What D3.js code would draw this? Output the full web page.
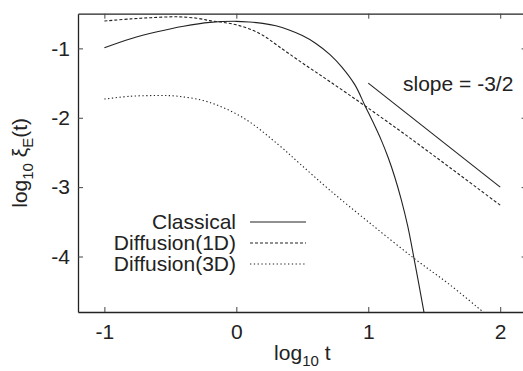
<!DOCTYPE html>
<html>
<head>
<meta charset="utf-8">
<script src="https://cdn.jsdelivr.net/npm/d3@7"></script>
<style>
  body { margin: 0; background: #fff; }
  svg { display: block; font-family: "Liberation Sans", Arial, Helvetica, sans-serif; }
</style>
</head>
<body>
<div id="chart"></div>
<script>
// values: [log10 t, log10 xi_E(t)]
var classical = [
    [-1.0, -0.99], [-0.8, -0.86], [-0.6, -0.76], [-0.4, -0.68], [-0.2, -0.625],
    [0.0, -0.61], [0.1, -0.62], [0.2, -0.64], [0.3, -0.675], [0.4, -0.735],
    [0.5, -0.815], [0.6, -0.925], [0.71, -1.09], [0.8, -1.27], [0.9, -1.53],
    [0.976, -1.83], [1.05, -2.12], [1.1, -2.33], [1.15, -2.57], [1.2, -2.85],
    [1.25, -3.18], [1.3, -3.57], [1.347, -4.03], [1.42, -4.78], [1.44, -5.0]
];
var diffusion1D = [
    [-1.0, -0.605], [-0.8, -0.575], [-0.65, -0.558], [-0.45, -0.545], [-0.3, -0.565],
    [-0.2, -0.6], [-0.1, -0.625], [0.0, -0.66], [0.1, -0.72], [0.2, -0.81],
    [0.32, -0.97], [0.5, -1.21], [0.71, -1.48], [0.98, -1.835], [1.3, -2.27],
    [1.62, -2.72], [2.0, -3.26]
];
var diffusion3D = [
    [-1.0, -1.73], [-0.8, -1.69], [-0.6, -1.68], [-0.44, -1.69], [-0.2, -1.78],
    [0.06, -2.01], [0.32, -2.39], [0.48, -2.66], [0.7, -3.03], [1.0, -3.50],
    [1.35, -4.03], [1.62, -4.41], [1.87, -4.8], [1.9, -4.85]
];
var slopeLine = [[1, -1.5], [2, -3.0]];
var xTicks = [-1, 0, 1, 2];
var yTicks = [-1, -2, -3, -4];
var legendNames = ['Classical', 'Diffusion(1D)', 'Diffusion(3D)'];

var width = 523, height = 371;
var plotLeft = 78, plotRight = 526.6, plotTop = 13.7, plotBottom = 312;

var svg = d3.select('#chart')
    .append('svg')
    .attr('width', width)
    .attr('height', height);

var x = d3.scaleLinear().domain([-1.2, 2.2]).range([plotLeft, plotRight]);
var y = d3.scaleLinear().domain([-0.5, -4.8]).range([plotTop, plotBottom]);

svg.append('clipPath')
    .attr('id', 'plotclip')
    .append('rect')
    .attr('x', plotLeft).attr('y', plotTop)
    .attr('width', plotRight - plotLeft).attr('height', plotBottom - plotTop);

var fontSize = 21;

// axes, ticks pointing into the box
svg.append('g')
    .attr('class', 'x-axis')
    .attr('transform', 'translate(0,' + plotBottom + ')')
    .call(d3.axisBottom(x).tickValues(xTicks).tickSizeInner(-5).tickSizeOuter(0).tickPadding(12).tickFormat(d3.format('d')));
svg.append('g')
    .attr('transform', 'translate(0,' + plotTop + ')')
    .call(d3.axisTop(x).tickValues(xTicks).tickSizeInner(-5).tickSizeOuter(0).tickFormat(''));
svg.append('g')
    .attr('class', 'y-axis')
    .attr('transform', 'translate(' + plotLeft + ',0)')
    .call(d3.axisLeft(y).tickValues(yTicks).tickSizeInner(-5).tickSizeOuter(0).tickPadding(8).tickFormat(d3.format('d')));
svg.append('g')
    .attr('transform', 'translate(' + plotRight + ',0)')
    .call(d3.axisRight(y).tickValues(yTicks).tickSizeInner(-5).tickSizeOuter(0).tickFormat(''));

svg.selectAll('.domain').attr('stroke', '#222').attr('stroke-width', 1.3);
svg.selectAll('.tick line').attr('stroke', '#444');
svg.selectAll('.x-axis .tick text, .y-axis .tick text')
    .attr('font-family', '"Liberation Sans", Arial, sans-serif')
    .attr('font-size', fontSize)
    .attr('fill', '#222')
    .text(function (d) { return d < 0 ? '-' + Math.abs(d) : d; });

// curves
var line = d3.line()
    .x(function (d) { return x(d[0]); })
    .y(function (d) { return y(d[1]); })
    .curve(d3.curveCatmullRom.alpha(0.5));

var series = [
    { data: classical, dash: null },
    { data: diffusion1D, dash: '3,2' },
    { data: diffusion3D, dash: '1.3,2.5' }
];

var plot = svg.append('g').attr('clip-path', 'url(#plotclip)');
series.forEach(function (s) {
    plot.append('path')
        .datum(s.data)
        .attr('d', line)
        .attr('fill', 'none')
        .attr('stroke', '#222')
        .attr('stroke-width', 1.1)
        .attr('stroke-dasharray', s.dash);
});

plot.append('path')
    .datum(slopeLine)
    .attr('d', d3.line().x(function (d) { return x(d[0]); }).y(function (d) { return y(d[1]); }))
    .attr('fill', 'none')
    .attr('stroke', '#222')
    .attr('stroke-width', 1.1);

svg.append('text')
    .attr('x', 403)
    .attr('y', 91)
    .attr('font-size', fontSize)
    .attr('fill', '#222')
    .text('slope = -3/2');

// legend
var legend = svg.append('g');
legendNames.forEach(function (name, i) {
    var ly = 222 + i * 21;
    legend.append('text')
        .attr('x', 236)
        .attr('y', ly)
        .attr('dy', '0.35em')
        .attr('text-anchor', 'end')
        .attr('font-size', fontSize)
        .attr('fill', '#222')
        .text(name);
    legend.append('line')
        .attr('x1', 250).attr('x2', 306)
        .attr('y1', ly).attr('y2', ly)
        .attr('stroke', '#222')
        .attr('stroke-width', 1.1)
        .attr('stroke-dasharray', series[i].dash);
});

// axis titles
var xt = svg.append('text')
    .attr('x', (plotLeft + plotRight) / 2)
    .attr('y', 360)
    .attr('text-anchor', 'middle')
    .attr('font-size', fontSize)
    .attr('fill', '#222');
xt.append('tspan').text('log');
xt.append('tspan').attr('font-size', 15).attr('dy', 6).text('10');
xt.append('tspan').attr('dy', -6).text(' t');

var yt = svg.append('text')
    .attr('transform', 'translate(27,' + ((plotTop + plotBottom) / 2) + ') rotate(-90)')
    .attr('text-anchor', 'middle')
    .attr('font-size', fontSize)
    .attr('fill', '#222');
yt.append('tspan').text('log');
yt.append('tspan').attr('font-size', 15).attr('dy', 6).text('10');
yt.append('tspan').attr('dy', -6).text(' ξ');
yt.append('tspan').attr('font-size', 15).attr('dy', 6).text('E');
yt.append('tspan').attr('dy', -6).text('(t)');
</script>
</body>
</html>
